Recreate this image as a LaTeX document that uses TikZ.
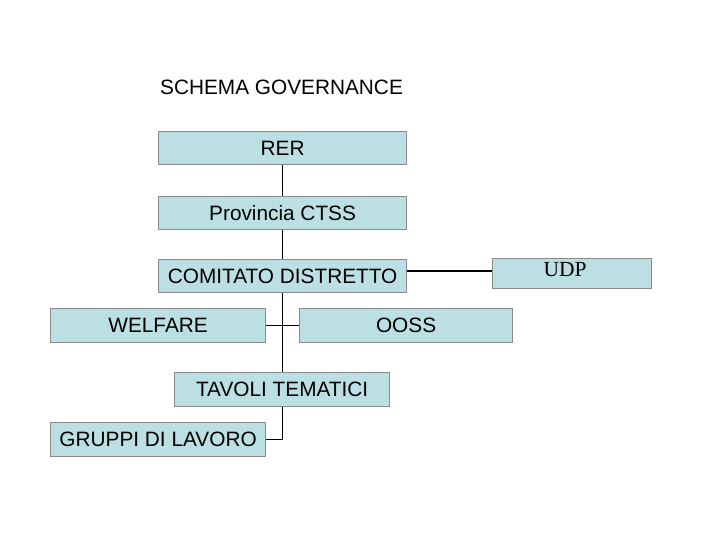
\documentclass[tikz,border=0pt]{standalone}
\usepackage{fontspec}
\setmainfont{Liberation Sans}
\newfontfamily\timesf{Liberation Serif}
\definecolor{boxfill}{HTML}{BCDFE3}
\definecolor{boxline}{HTML}{8A8A8A}
\begin{document}
\begin{tikzpicture}[x=1pt,y=-1pt,
  orgbox/.style={draw=boxline, line width=1.2pt, fill=boxfill, inner sep=0pt, anchor=north west, font=\fontsize{20.8}{24}\selectfont},
  link/.style={draw=black, line width=0.8pt}]
\useasboundingbox (0,0) rectangle (720,540);
\node[anchor=base west, font=\fontsize{20.8}{24}\selectfont, inner sep=0pt] (title) at (160,95) {SCHEMA GOVERNANCE};
\node[orgbox, minimum width=248pt, minimum height=33pt] (rer) at (158,131) {RER};
\node[orgbox, minimum width=248pt, minimum height=33pt] (prov) at (158,196) {Provincia CTSS};
\node[orgbox, minimum width=248pt, minimum height=33pt] (com) at (158,259) {COMITATO DISTRETTO};
\node[orgbox, minimum width=159pt, minimum height=30pt] (udp) at (492,258) {};
\node[anchor=base, font=\timesf\fontsize{21.5}{24}\selectfont, inner sep=0pt] (udpt) at (565,276) {UDP};
\node[orgbox, minimum width=215pt, minimum height=34pt] (wel) at (50,308) {WELFARE};
\node[orgbox, minimum width=213pt, minimum height=34pt] (ooss) at (299,308) {OOSS};
\node[orgbox, minimum width=215pt, minimum height=34pt] (tav) at (174,372) {TAVOLI TEMATICI};
\node[orgbox, minimum width=215pt, minimum height=34pt] (grp) at (50,422) {GRUPPI DI LAVORO};
\coordinate (j1) at (282,325);
\coordinate (j2) at (282,439);
\draw[link] (rer.south -| j1) -- (prov.north -| j1);
\draw[link] (prov.south -| j1) -- (com.north -| j1);
\draw[link] (com.south -| j1) -- (tav.north -| j1);
\draw[link] (wel.east |- j1) -- (ooss.west |- j1);
\draw[link] (tav.south -| j2) -- (j2) -- (grp.east |- j2);
\draw[draw=black, line width=1.5pt] (com.east |- 0,271) -- (udp.west |- 0,271);
\end{tikzpicture}
\end{document}
